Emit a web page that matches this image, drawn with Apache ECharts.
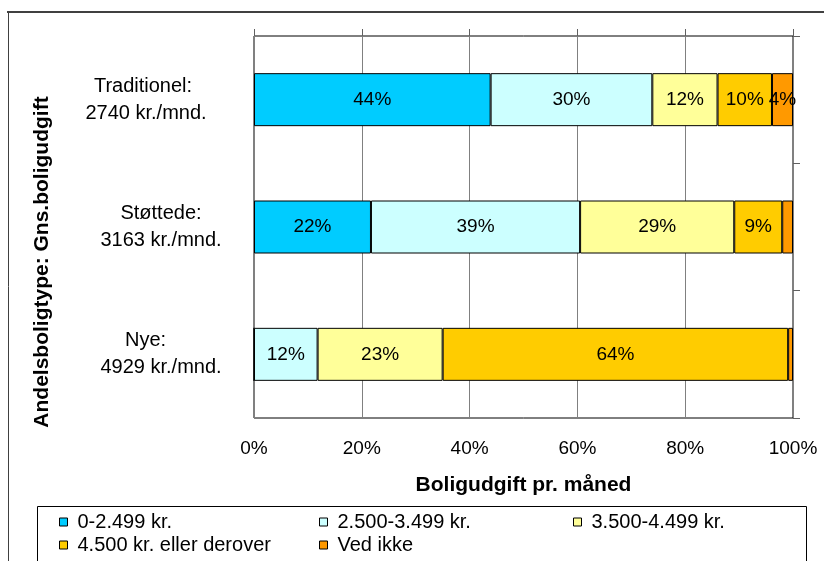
<!DOCTYPE html>
<html>
<head>
<meta charset="utf-8">
<script src="https://cdn.jsdelivr.net/npm/echarts@6/dist/echarts.min.js"></script>
<style>
  html, body { margin: 0; padding: 0; background: #fff; }
  #main { width: 824px; height: 561px; }
</style>
</head>
<body>
<div id="main"></div>
<script>
var categories = ['Traditionel:\n2740 kr./mnd.', 'Støttede:\n3163 kr./mnd.', 'Nye:\n4929 kr./mnd.'];
var seriesNames = ['0-2.499 kr.', '2.500-3.499 kr.', '3.500-4.499 kr.', '4.500 kr. eller derover', 'Ved ikke'];
var seriesColors = ['#00CCFF', '#CCFFFF', '#FFFF99', '#FFCC00', '#FF9900'];
// procent pr. kategori (Traditionel, Støttede, Nye)
var lav = [43.9, 21.7, 0];
var mellem = [30.0, 38.8, 11.8];
var hoej = [12.1, 28.6, 23.2];
var overHoej = [10.1, 8.9, 64.1];
var vedIkke = [3.9, 2.0, 0.9];
var xTicks = [0, 20, 40, 60, 80, 100];

var values = [lav, mellem, hoej, overHoej, vedIkke];
var font = 'Arial, "Liberation Sans", sans-serif';

// Excel placerede akseteksterne lidt skævt, så linjerne får hver sin forskydning
var labelPad = [[36, 30], [0, 0], [31, 0]];

var chart = echarts.init(document.getElementById('main'));

var series = seriesNames.map(function (name, i) {
  return {
    name: name,
    type: 'bar',
    stack: 'total',
    barWidth: 53,
    data: values[i],
    itemStyle: { color: seriesColors[i], borderColor: '#000', borderWidth: 1 },
    label: {
      show: true,
      position: 'inside',
      color: '#000',
      fontFamily: font,
      fontSize: 19,
      formatter: function (p) {
        var v = Math.round(p.value);
        return v >= 3 ? v + '%' : '';
      }
    },
    emphasis: { disabled: true }
  };
});

function legendAt(left, names) {
  return {
    orient: 'vertical',
    left: left,
    top: 512,
    padding: 0,
    itemWidth: 8,
    itemHeight: 8,
    itemGap: 3,
    icon: 'rect',
    data: names,
    selectedMode: false,
    itemStyle: { borderColor: '#000', borderWidth: 1 },
    textStyle: { fontFamily: font, fontSize: 20, color: '#000', padding: [0, 0, 0, 5] }
  };
}

var richLines = {};
labelPad.forEach(function (pads, i) {
  richLines['a' + i] = { fontFamily: font, fontSize: 20, color: '#000', lineHeight: 27, padding: [0, pads[0], 0, 0] };
  richLines['b' + i] = { fontFamily: font, fontSize: 20, color: '#000', lineHeight: 27, padding: [0, pads[1], 0, 0] };
});

chart.setOption({
  animation: false,
  grid: {
    left: 254, right: 31, top: 36, bottom: 143,
    show: true, borderColor: '#000', borderWidth: 1
  },
  legend: [
    legendAt(59, [seriesNames[0], seriesNames[3]]),
    legendAt(319, [seriesNames[1], seriesNames[4]]),
    legendAt(573, [seriesNames[2]])
  ],
  xAxis: [
    {
      type: 'value',
      position: 'bottom',
      min: xTicks[0],
      max: xTicks[xTicks.length - 1],
      interval: 20,
      axisLine: { show: false },
      axisTick: { show: false },
      axisLabel: {
        margin: 21,
        fontFamily: font,
        fontSize: 19,
        color: '#000',
        formatter: '{value}%'
      },
      splitLine: { show: true, lineStyle: { color: '#808080', width: 1 } },
      name: 'Boligudgift pr. måned',
      nameLocation: 'middle',
      nameGap: 57,
      nameTextStyle: { fontFamily: font, fontSize: 21, fontWeight: 'bold', color: '#000' }
    },
    {
      type: 'value',
      position: 'top',
      min: xTicks[0],
      max: xTicks[xTicks.length - 1],
      interval: 20,
      axisLine: { show: false, onZero: false },
      axisTick: { show: true, length: 7, lineStyle: { color: '#606060' } },
      axisLabel: { show: false },
      splitLine: { show: false }
    }
  ],
  yAxis: [
    {
      type: 'category',
      data: categories,
      inverse: true,
      position: 'left',
      axisLine: { show: false, onZero: false },
      axisTick: { show: false },
      axisLabel: {
        margin: 93,
        align: 'center',
        formatter: function (value, idx) {
          var parts = value.split('\n');
          return '{a' + idx + '|' + parts[0] + '}\n{b' + idx + '|' + parts[1] + '}';
        },
        rich: richLines
      }
    },
    {
      type: 'category',
      data: categories,
      inverse: true,
      position: 'right',
      axisLine: { show: false, onZero: false },
      axisTick: { show: true, length: 7, lineStyle: { color: '#606060' } },
      axisLabel: { show: false }
    }
  ],
  graphic: [
    {
      type: 'line',
      shape: { x1: 7, y1: 12, x2: 824, y2: 12 },
      style: { stroke: '#404040', lineWidth: 2 },
      silent: true
    },
    {
      type: 'line',
      shape: { x1: 8.5, y1: 12, x2: 8.5, y2: 561 },
      style: { stroke: '#404040', lineWidth: 1 },
      silent: true
    },
    {
      type: 'rect',
      shape: { x: 37.5, y: 506.5, width: 769, height: 80 },
      style: { fill: 'none', stroke: '#000', lineWidth: 1 },
      silent: true
    },
    {
      type: 'text',
      x: 42,
      y: 262,
      rotation: Math.PI / 2,
      style: {
        text: 'Andelsboligtype: Gns.boligudgift',
        fontFamily: font,
        fontSize: 21,
        fontWeight: 'bold',
        fill: '#000',
        align: 'center',
        verticalAlign: 'middle'
      },
      silent: true
    }
  ],
  series: series
});
</script>
</body>
</html>
